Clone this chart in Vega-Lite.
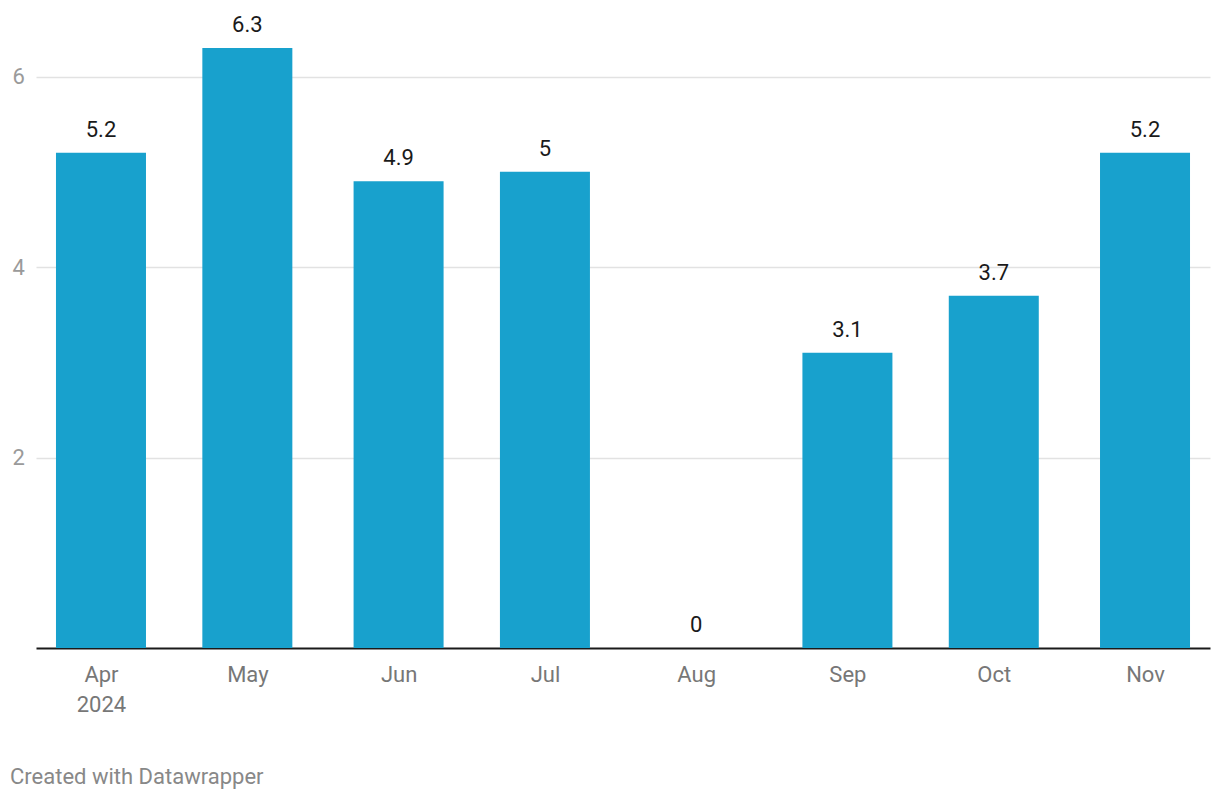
{
  "$schema": "https://vega.github.io/schema/vega-lite/v6.json",
  "autosize": {"type": "none"},
  "width": 1174,
  "height": 619,
  "padding": {"left": 36, "top": 29, "right": 10, "bottom": 152},
  "background": "#ffffff",
  "config": {
    "font": "Roboto",
    "view": {"stroke": null}
  },
  "title": {
    "text": "Created with Datawrapper",
    "orient": "bottom",
    "anchor": "start",
    "frame": "group",
    "dx": -26,
    "offset": 52,
    "font": "Roboto",
    "fontSize": 22,
    "fontWeight": "normal",
    "color": "#888888"
  },
  "data": {
    "values": [
      {"month": "2024-04-01", "value": 5.2},
      {"month": "2024-05-01", "value": 6.3},
      {"month": "2024-06-01", "value": 4.9},
      {"month": "2024-07-01", "value": 5.0},
      {"month": "2024-08-01", "value": 0},
      {"month": "2024-09-01", "value": 3.1},
      {"month": "2024-10-01", "value": 3.7},
      {"month": "2024-11-01", "value": 5.2}
    ]
  },
  "encoding": {
    "x": {
      "field": "month",
      "type": "temporal",
      "scale": {
        "type": "utc",
        "nice": false,
        "padding": 0,
        "domain": [
          {"year": 2024, "month": 3, "date": 18, "hours": 16, "minutes": 19, "utc": true},
          {"year": 2024, "month": 11, "date": 14, "hours": 7, "minutes": 41, "utc": true}
        ]
      },
      "axis": {
        "title": null,
        "values": [
          {"year": 2024, "month": 4, "date": 1, "utc": true},
          {"year": 2024, "month": 5, "date": 1, "utc": true},
          {"year": 2024, "month": 6, "date": 1, "utc": true},
          {"year": 2024, "month": 7, "date": 1, "utc": true},
          {"year": 2024, "month": 8, "date": 1, "utc": true},
          {"year": 2024, "month": 9, "date": 1, "utc": true},
          {"year": 2024, "month": 10, "date": 1, "utc": true},
          {"year": 2024, "month": 11, "date": 1, "utc": true}
        ],
        "labelExpr": "utcFormat(datum.value, '%m') == '04' ? [utcFormat(datum.value, '%b'), utcFormat(datum.value, '%Y')] : utcFormat(datum.value, '%b')",
        "grid": false,
        "ticks": false,
        "tickSize": 0,
        "domain": true,
        "domainColor": "#1a1a1a",
        "domainWidth": 2,
        "labelFont": "Roboto",
        "labelFontSize": 22,
        "labelColor": "#777777",
        "labelPadding": 16,
        "labelLineHeight": 30,
        "labelFlush": false,
        "labelOverlap": false
      }
    },
    "y": {
      "field": "value",
      "type": "quantitative",
      "scale": {"domain": [0, 6.5], "nice": false, "zero": true},
      "axis": {
        "title": null,
        "values": [2, 4, 6],
        "grid": true,
        "gridColor": "#e2e2e2",
        "gridWidth": 1.5,
        "ticks": false,
        "tickSize": 0,
        "domain": false,
        "labelAlign": "left",
        "labelBaseline": "middle",
        "labelPadding": 24,
        "labelFont": "Roboto",
        "labelFontSize": 22,
        "labelColor": "#9a9a9a"
      }
    }
  },
  "layer": [
    {
      "mark": {"type": "bar", "width": 90, "color": "#18a1cd"}
    },
    {
      "mark": {
        "type": "text",
        "baseline": "alphabetic",
        "align": "center",
        "dy": -16,
        "font": "Roboto",
        "fontSize": 22,
        "color": "#1a1a1a"
      },
      "encoding": {
        "text": {"field": "value", "type": "quantitative", "format": "~g"}
      }
    }
  ]
}
